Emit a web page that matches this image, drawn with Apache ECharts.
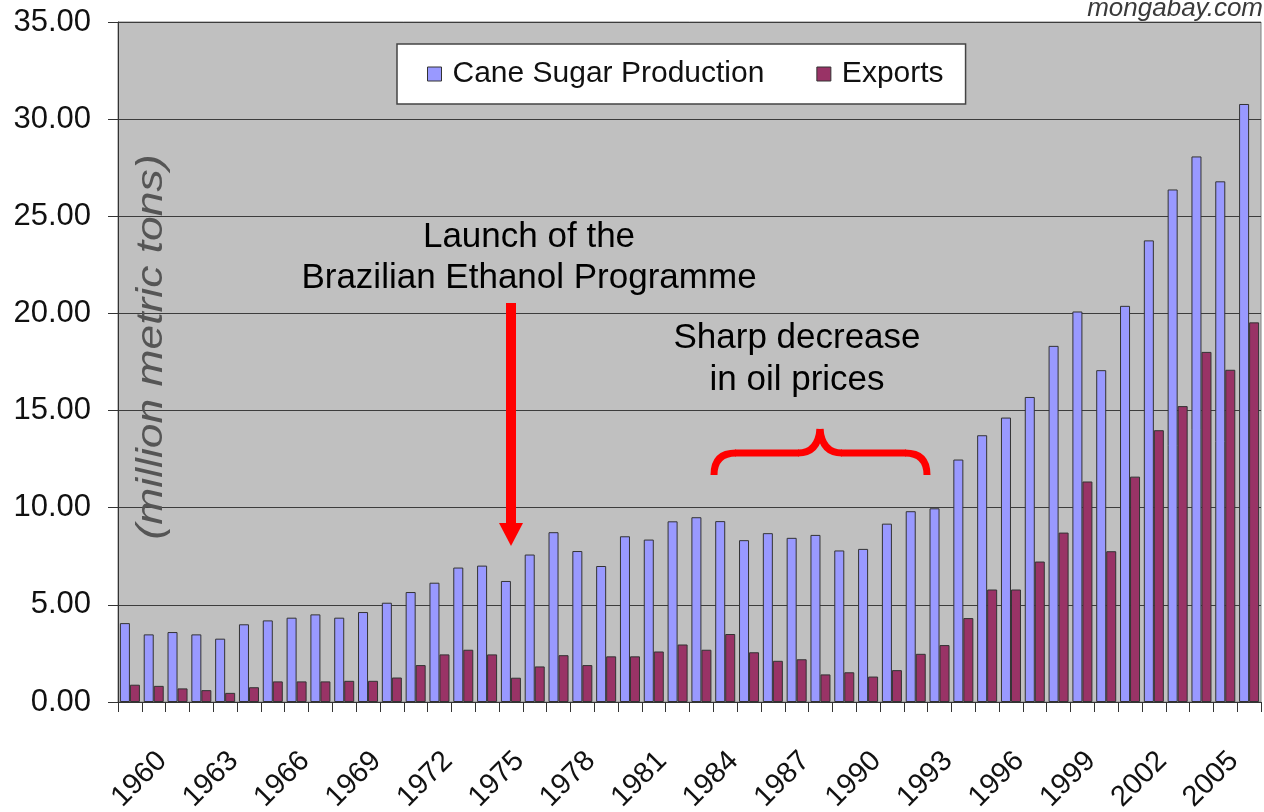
<!DOCTYPE html>
<html>
<head>
<meta charset="utf-8">
<title>Brazil cane sugar production and exports</title>
<script src="https://cdn.jsdelivr.net/npm/echarts@6/dist/echarts.min.js"></script>
<style>
  html, body { margin: 0; padding: 0; background: #fff; }
  #chart { width: 1264px; height: 812px; }
</style>
</head>
<body>
<div id="chart"></div>
<script>
// ---- data (million metric tons) ----
const years = [
  "1959", "1960", "1961", "1962", "1963", "1964", "1965", "1966", "1967", "1968",
  "1969", "1970", "1971", "1972", "1973", "1974", "1975", "1976", "1977", "1978",
  "1979", "1980", "1981", "1982", "1983", "1984", "1985", "1986", "1987", "1988",
  "1989", "1990", "1991", "1992", "1993", "1994", "1995", "1996", "1997", "1998",
  "1999", "2000", "2001", "2002", "2003", "2004", "2005", "2006"
];
const production = [
  4.06, 3.48, 3.60, 3.48, 3.26, 4.00, 4.20, 4.34, 4.51, 4.34,
  4.63, 5.11, 5.66, 6.14, 6.92, 7.02, 6.23, 7.59, 8.74, 7.77,
  7.00, 8.53, 8.36, 9.30, 9.51, 9.31, 8.33, 8.69, 8.45, 8.60,
  7.80, 7.88, 9.18, 9.82, 9.97, 12.48, 13.73, 14.64, 15.70, 18.33,
  20.10, 17.08, 20.39, 23.76, 26.38, 28.08, 26.80, 30.78
];
const exportsData = [
  0.89, 0.83, 0.70, 0.61, 0.47, 0.76, 1.06, 1.06, 1.06, 1.09,
  1.09, 1.26, 1.90, 2.45, 2.69, 2.45, 1.25, 1.83, 2.41, 1.90,
  2.35, 2.35, 2.60, 2.96, 2.69, 3.50, 2.56, 2.12, 2.20, 1.42,
  1.53, 1.31, 1.64, 2.48, 2.93, 4.32, 5.79, 5.79, 7.23, 8.72,
  11.35, 7.76, 11.60, 13.99, 15.23, 18.02, 17.10, 19.54
];
// only every third year gets a label on the x axis
const tickLabels = [
  "1960", "1963", "1966", "1969", "1972", "1975", "1978", "1981",
  "1984", "1987", "1990", "1993", "1996", "1999", "2002", "2005"
];
const seriesNames = ["Cane Sugar Production", "Exports"];

const FONT = "'Liberation Sans', Arial, sans-serif";
const RED = "#ff0000";

const chart = echarts.init(document.getElementById("chart"));

// red curly brace, built from curve + line pieces
const braceStyle = { stroke: RED, lineWidth: 7, fill: null };
const brace = [
  { type: "bezierCurve", shape: { x1: 714, y1: 475, cpx1: 714, cpy1: 453, x2: 736, y2: 453 } },
  { type: "line", shape: { x1: 735, y1: 453, x2: 799, y2: 453 } },
  { type: "bezierCurve", shape: { x1: 798, y1: 453, cpx1: 818, cpy1: 453, x2: 820, y2: 429 } },
  { type: "bezierCurve", shape: { x1: 820, y1: 429, cpx1: 822, cpy1: 453, x2: 842, y2: 453 } },
  { type: "line", shape: { x1: 841, y1: 453, x2: 906, y2: 453 } },
  { type: "bezierCurve", shape: { x1: 905, y1: 453, cpx1: 927, cpy1: 453, x2: 927, y2: 475 } }
].map(el => Object.assign(el, { z: 100, style: braceStyle }));

// Annotations drawn on top of the plot (text, arrow, brace)
const annotations = [
  {
    type: "text", z: 100,
    style: { text: "Launch of the\nBrazilian Ethanol Programme", x: 529, y: 258,
      textAlign: "center", textVerticalAlign: "middle", fill: "#000",
      font: "35px " + FONT, lineHeight: 41 }
  },
  {
    type: "rect", z: 100,
    shape: { x: 506, y: 303, width: 10, height: 221 },
    style: { fill: RED }
  },
  {
    type: "polygon", z: 100,
    shape: { points: [[499, 523], [523, 523], [511, 546]] },
    style: { fill: RED }
  },
  {
    type: "text", z: 100,
    style: { text: "Sharp decrease\nin oil prices", x: 797, y: 359,
      textAlign: "center", textVerticalAlign: "middle", fill: "#000",
      font: "35px " + FONT, lineHeight: 42 }
  },
  ...brace,
  {
    // axis title sits inside the plot; stretched along its length like the original
    type: "text", z: 100,
    style: { text: "(million metric tons)", x: 0, y: 0,
      textAlign: "center", textVerticalAlign: "middle", fill: "#555",
      font: "italic 37px " + FONT },
    x: 152, y: 347, rotation: Math.PI / 2, scaleX: 1.2
  },
  {
    type: "text", z: 100,
    style: { text: "mongabay.com", x: 1263, y: 9,
      textAlign: "right", textVerticalAlign: "middle", fill: "#3a3a3a",
      font: "italic 26px " + FONT }
  }
];

const option = {
  animation: false,
  backgroundColor: "#fff",
  textStyle: { fontFamily: FONT },
  grid: {
    left: 118, right: 3, top: 22, bottom: 110,
    outerBoundsMode: "none",
    containLabel: false,
    show: true, backgroundColor: "#c0c0c0",
    borderColor: "#808080", borderWidth: 1
  },
  legend: {
    data: seriesNames,
    left: 397, top: 44,
    padding: [15, 22, 15, 30],
    itemGap: 52,
    itemWidth: 14, itemHeight: 14,
    icon: "rect",
    backgroundColor: "#fff",
    borderColor: "#444", borderWidth: 1.5,
    itemStyle: { borderColor: "#333", borderWidth: 1 },
    textStyle: { fontSize: 30, color: "#111", lineHeight: 30, padding: [0, 0, 0, 6] }
  },
  xAxis: {
    type: "category",
    data: years,
    boundaryGap: true,
    axisLine: { lineStyle: { color: "#333", width: 1 } },
    axisTick: { show: true, interval: 0, length: 10, lineStyle: { color: "#333" } },
    axisLabel: {
      interval: 0,
      rotate: 45,
      margin: 46,
      fontSize: 29,
      lineHeight: 24,
      color: "#111",
      // top-anchored rotated labels sit a little right of the category centre, as in the original
      align: "right",
      verticalAlign: "top",
      formatter: v => (tickLabels.includes(v) ? v : "")
    },
    splitLine: { show: false }
  },
  yAxis: {
    type: "value",
    min: 0, max: 35, interval: 5,
    axisLine: { show: true, lineStyle: { color: "#333", width: 1 } },
    axisTick: { show: true, length: 10, lineStyle: { color: "#333" } },
    axisLabel: {
      margin: 27, fontSize: 31, color: "#111",
      formatter: v => v.toFixed(2)
    },
    splitLine: { show: true, lineStyle: { color: "#3c3c3c", width: 1.2 } }
  },
  series: [
    {
      name: seriesNames[0],
      type: "bar",
      data: production,
      barGap: "0%",
      barCategoryGap: "16%",
      itemStyle: { color: "#9999ff", borderColor: "#333", borderWidth: 1 }
    },
    {
      name: seriesNames[1],
      type: "bar",
      data: exportsData,
      itemStyle: { color: "#993366", borderColor: "#333", borderWidth: 1 }
    }
  ],
  graphic: annotations
};

chart.setOption(option);
</script>
</body>
</html>
